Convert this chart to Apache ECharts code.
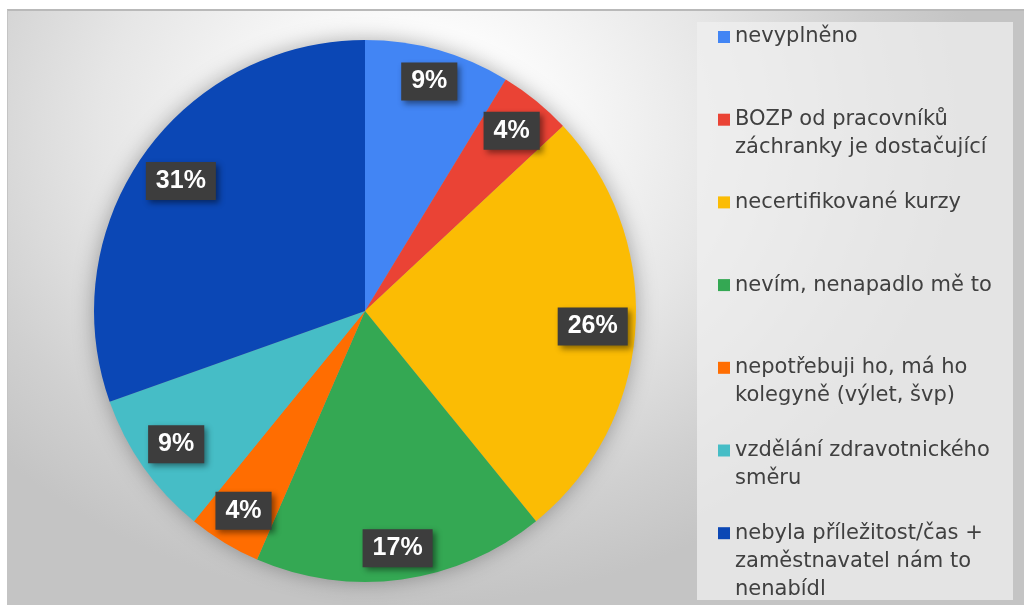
<!DOCTYPE html>
<html>
<head>
<meta charset="utf-8">
<script src="https://cdn.jsdelivr.net/npm/echarts@6/dist/echarts.min.js"></script>
<style>
  html, body { margin: 0; padding: 0; background: #ffffff; }
  #frame {
    position: absolute; left: 7px; top: 9px; width: 1017px; height: 596px;
    border-top: 2px solid #b9b9b9; border-left: 1px solid #c4c4c4; box-sizing: border-box;
    background: radial-gradient(ellipse 56% 80% at 40% 20%, #ffffff 0%, #fbfbfb 22%, #e6e6e6 55%, #d0d0d0 82%, #c4c4c4 100%);
  }
  #chart { position: absolute; left: 0; top: 0; width: 1024px; height: 605px; }
</style>
</head>
<body>
<div id="frame"></div>
<div id="chart"></div>
<script>
// answers (counts out of 23 respondents -> 9 %, 4 %, 26 %, 17 %, 4 %, 9 %, 31 %)
const categories = [
  'nevyplněno',
  'BOZP od pracovníků záchranky je dostačující',
  'necertifikované kurzy',
  'nevím, nenapadlo mě to',
  'nepotřebuji ho, má ho kolegyně (výlet, švp)',
  'vzdělání zdravotnického směru',
  'nebyla příležitost/čas + zaměstnavatel nám to nenabídl'
];
const legendText = [
  'nevyplněno',
  'BOZP od pracovníků\nzáchranky je dostačující',
  'necertifikované kurzy',
  'nevím, nenapadlo mě to',
  'nepotřebuji ho, má ho\nkolegyně (výlet, švp)',
  'vzdělání zdravotnického\nsměru',
  'nebyla příležitost/čas +\nzaměstnavatel nám to\nnenabídl'
];
const counts = [2, 1, 6, 4, 1, 2, 7];
const colors = ['#4285F4', '#EA4335', '#FBBC04', '#34A853', '#FF6D01', '#46BDC6', '#0B47B5'];

const CX = 365, CY = 311, R = 271;
const LINE_H = 28;

let chart = echarts.init(document.getElementById('chart'));

// one legend block per answer so the rows keep an even pitch;
// blank lines in front keep the marker level with the first text line
let legends = categories.map(function (name, i) {
  let lines = legendText[i].split('\n').length;
  let cy = 37 + i * 82.7;
  let pad = new Array(lines).join('\n');
  return {
    data: [name],
    orient: 'vertical',
    left: 718,
    top: cy - 14 * (2 * lines - 1),
    padding: 0,
    icon: 'rect',
    itemWidth: 12,
    itemHeight: 12,
    selectedMode: false,
    formatter: function () { return pad + legendText[i]; },
    textStyle: {
      fontFamily: 'DejaVu Sans',
      fontSize: 21,
      color: '#404040',
      lineHeight: LINE_H,
      backgroundColor: 'rgba(0,0,0,0)'
    }
  };
});

let option = {
  animation: false,
  color: colors,
  legend: legends,
  graphic: [
    {
      type: 'rect', z: -10, silent: true,
      shape: { x: 697, y: 22, width: 316, height: 578 },
      style: { fill: 'rgba(240,240,240,0.72)' }
    },
    {
      type: 'circle', z: -5, silent: true,
      shape: { cx: CX, cy: CY, r: R - 1 },
      style: { fill: '#9a9a9a', shadowBlur: 22, shadowColor: 'rgba(0,0,0,0.35)' }
    }
  ],
  series: [
    {
      type: 'pie',
      center: [CX, CY],
      radius: [0, R],
      startAngle: 90,
      clockwise: true,
      percentPrecision: 0,
      avoidLabelOverlap: false,
      itemStyle: { borderWidth: 0 },
      label: {
        show: true,
        position: 'inside',
        rotate: 0,
        formatter: '{d}%',
        fontFamily: 'Liberation Sans',
        fontWeight: 'bold',
        fontSize: 25,
        lineHeight: 26,
        color: '#ffffff',
        backgroundColor: '#3d3d3d',
        padding: [6, 10],
        shadowColor: 'rgba(0,0,0,0.45)',
        shadowBlur: 6,
        shadowOffsetX: 3,
        shadowOffsetY: 3
      },
      labelLine: { show: false },
      // push each label out until its far corner sits just inside the rim
      labelLayout: function (p) {
        let r = p.labelRect;
        let lx = r.x + r.width / 2, ly = r.y + r.height / 2;
        let ux = lx - CX, uy = ly - CY;
        let len = Math.hypot(ux, uy) || 1;
        ux /= len; uy /= len;
        let w2 = r.width / 2, h2 = r.height / 2;
        let rr = R - 6;
        let b = Math.abs(ux) * w2 + Math.abs(uy) * h2;
        let c = w2 * w2 + h2 * h2 - rr * rr;
        let t = -b + Math.sqrt(b * b - c);
        return { x: CX + ux * t, y: CY + uy * t };
      },
      emphasis: { disabled: true },
      data: categories.map(function (name, i) {
        return { name: name, value: counts[i] };
      })
    }
  ]
};
chart.setOption(option);
</script>
</body>
</html>
